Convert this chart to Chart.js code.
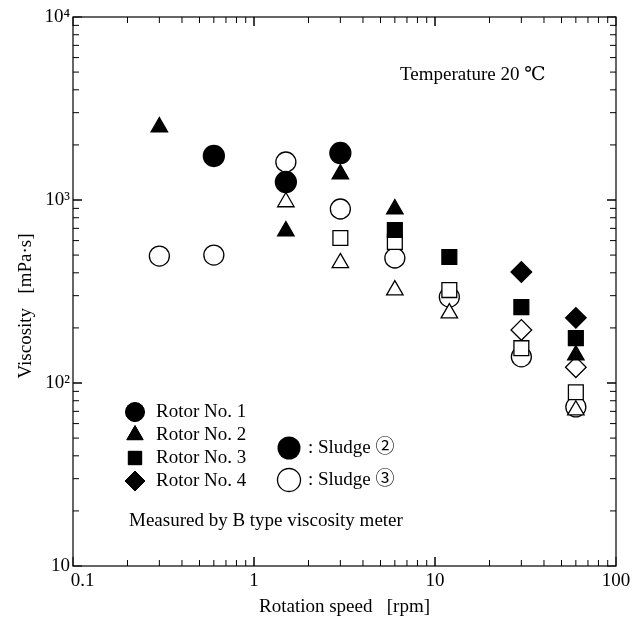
<!DOCTYPE html>
<html>
<head>
<meta charset="utf-8">
<script src="https://cdn.jsdelivr.net/npm/chart.js@4.4.1/dist/chart.umd.min.js"></script>
<style>
  html, body { margin: 0; padding: 0; background: #fff; }
  #wrap { width: 642px; height: 633px; }
</style>
</head>
<body>
<div id="wrap"><canvas id="viscosityChart" width="642" height="633"></canvas></div>
<script>
const serif = '"Liberation Serif", "DejaVu Serif", "Noto Sans CJK JP", serif';

// tick labels
const xTicks = [0.1, 1, 10, 100];
const xTickLabels = ['    0.1', '1', '10', '100'];
const yTicks = [10, 100, 1000, 10000];
const yTickLabels = ['10', '10²', '10³', '10⁴'];

// rotation speed [rpm] / viscosity [mPa·s]
const rotor1Sludge2 = [[0.6, 1740], [1.5, 1254], [3, 1806]];
const rotor1Sludge3 = [[0.3, 494], [0.6, 500], [1.5, 1613], [3, 893], [6, 482], [12, 295], [30, 139], [60, 74]];
const rotor2Sludge2 = [[0.3, 2505], [1.5, 677], [3, 1387], [6, 893], [60, 142]];
const rotor2Sludge3 = [[1.5, 975], [3, 453], [6, 322], [12, 241], [60, 71]];
const rotor3Sludge2 = [[6, 686], [12, 488], [30, 260], [60, 176]];
const rotor3Sludge3 = [[3, 620], [6, 590], [12, 322], [30, 155], [60, 89]];
const rotor4Sludge2 = [[30, 404], [60, 227]];
const rotor4Sludge3 = [[30, 195], [60, 122]];

const toXY = arr => arr.map(p => ({ x: p[0], y: p[1] }));

function series(label, data, style, radius, filled, order) {
    return {
        label: label,
        data: toXY(data),
        pointStyle: style,
        pointRadius: radius,
        pointHoverRadius: radius,
        backgroundColor: filled ? '#000' : '#fff',
        borderColor: '#000',
        pointBorderWidth: 1.3,
        showLine: false,
        order: order
    };
}

const datasets = [
    series('Rotor No. 1 Sludge 2', rotor1Sludge2, 'circle', 10.5, true, 1),
    series('Rotor No. 2 Sludge 2', rotor2Sludge2, 'triangle', 9.5, true, 2),
    series('Rotor No. 3 Sludge 2', rotor3Sludge2, 'rect', 10.5, true, 3),
    series('Rotor No. 4 Sludge 2', rotor4Sludge2, 'rectRot', 10.3, true, 4),
    series('Rotor No. 4 Sludge 3', rotor4Sludge3, 'rectRot', 10.3, false, 5),
    series('Rotor No. 3 Sludge 3', rotor3Sludge3, 'rect', 10.5, false, 6),
    series('Rotor No. 2 Sludge 3', rotor2Sludge3, 'triangle', 9.5, false, 7),
    series('Rotor No. 1 Sludge 3', rotor1Sludge3, 'circle', 10, false, 8)
];

// frame, inward ticks, y title and annotation texts
const decorPlugin = {
    id: 'decor',
    afterDraw(chart) {
        const ctx = chart.ctx;
        const a = chart.chartArea;
        const xs = chart.scales.x, ys = chart.scales.y;
        ctx.save();
        ctx.strokeStyle = '#000';
        ctx.lineWidth = 1.2;
        ctx.strokeRect(a.left, a.top, a.right - a.left, a.bottom - a.top);

        ctx.lineWidth = 1;
        ctx.beginPath();
        for (let d = 0.1; d < 100; d *= 10) {
            for (let m = 1; m <= 10; m++) {
                const px = xs.getPixelForValue(d * m);
                const len = (m === 1 || m === 10) ? 9 : 6;
                ctx.moveTo(px, a.bottom); ctx.lineTo(px, a.bottom - len);
                ctx.moveTo(px, a.top); ctx.lineTo(px, a.top + len);
            }
        }
        for (let d = 10; d < 10000; d *= 10) {
            for (let m = 1; m <= 10; m++) {
                const py = ys.getPixelForValue(d * m);
                const len = (m === 1 || m === 10) ? 9 : 6;
                ctx.moveTo(a.left, py); ctx.lineTo(a.left + len, py);
                ctx.moveTo(a.right, py); ctx.lineTo(a.right - len, py);
            }
        }
        ctx.stroke();

        ctx.fillStyle = '#000';
        ctx.textBaseline = 'middle';
        ctx.textAlign = 'center';
        ctx.font = '19px ' + serif;
        ctx.save();
        ctx.translate(26, 306);
        ctx.rotate(-Math.PI / 2);
        ctx.fillText('Viscosity   [mPa·s]', 0, 0);
        ctx.restore();

        ctx.textAlign = 'left';
        ctx.fillText('Temperature 20 ℃', 400, 75);

        const rows = [
            ['circle', 9.5, 'Rotor No. 1'],
            ['triangle', 9.5, 'Rotor No. 2'],
            ['rect', 9.5, 'Rotor No. 3'],
            ['rectRot', 10, 'Rotor No. 4']
        ];
        rows.forEach((r, i) => {
            const y = 412 + i * 23;
            Chart.helpers.drawPoint(ctx, { pointStyle: r[0], radius: r[1], borderWidth: 1 }, 135, y);
            ctx.fillStyle = '#000';
            ctx.strokeStyle = '#000';
            ctx.fill();
            ctx.fillText(r[2], 156, y);
        });

        ctx.lineWidth = 1.3;
        ctx.beginPath();
        ctx.arc(289, 448, 11.5, 0, Math.PI * 2);
        ctx.fill();
        ctx.beginPath();
        ctx.arc(289, 480, 11.5, 0, Math.PI * 2);
        ctx.fillStyle = '#fff';
        ctx.fill();
        ctx.stroke();
        ctx.fillStyle = '#000';
        ctx.fillText(': Sludge ②', 308, 448);
        ctx.fillText(': Sludge ③', 308, 480);

        ctx.fillText('Measured by B type viscosity meter', 129, 521);
        ctx.restore();
    }
};

const ctxViscosity = document.getElementById('viscosityChart').getContext('2d');
const viscosityChart = new Chart(ctxViscosity, {
    type: 'scatter',
    data: { datasets: datasets },
    options: {
        responsive: false,
        animation: false,
        layout: { padding: { left: 0, top: 17, right: 26, bottom: 0 } },
        scales: {
            x: {
                type: 'logarithmic',
                min: 0.1,
                max: 100,
                afterBuildTicks: s => { s.ticks = xTicks.map(v => ({ value: v })); },
                afterFit: s => { s.height = 67; },
                grid: { display: false, drawTicks: false },
                border: { display: false },
                ticks: {
                    color: '#000',
                    padding: 4,
                    font: { family: serif, size: 19 },
                    callback: (v) => xTickLabels[xTicks.indexOf(v)] || ''
                },
                title: {
                    display: true,
                    text: 'Rotation speed   [rpm]',
                    color: '#000',
                    font: { family: serif, size: 19 },
                    padding: { top: 4, bottom: 15 }
                }
            },
            y: {
                type: 'logarithmic',
                min: 10,
                max: 10000,
                afterBuildTicks: s => { s.ticks = yTicks.map(v => ({ value: v })); },
                afterFit: s => { s.width = 73; },
                grid: { display: false, drawTicks: false },
                border: { display: false },
                ticks: {
                    color: '#000',
                    padding: 3,
                    font: { family: serif, size: 19 },
                    callback: (v) => yTickLabels[yTicks.indexOf(v)] || ''
                },
                title: { display: false }
            }
        },
        plugins: {
            legend: { display: false },
            tooltip: { enabled: false }
        }
    },
    plugins: [decorPlugin]
});
</script>
</body>
</html>
